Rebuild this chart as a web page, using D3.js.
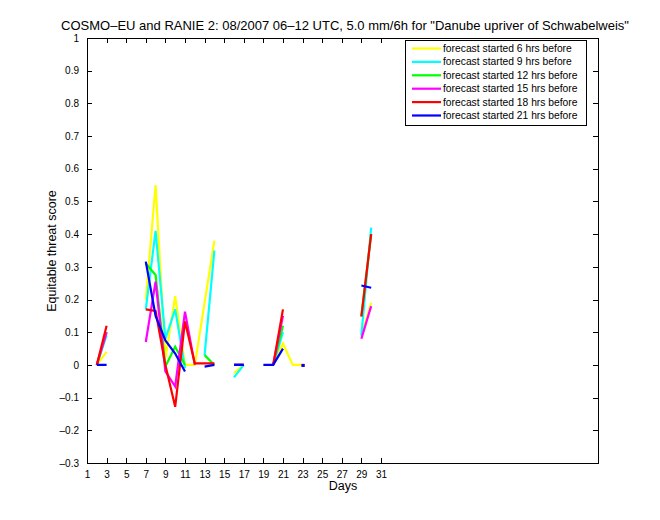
<!DOCTYPE html>
<html><head><meta charset="utf-8">
<script src="https://cdn.jsdelivr.net/npm/d3@7"></script>
<style>body{margin:0;background:#fff}svg{display:block}text{font-family:"Liberation Sans",Arial,sans-serif;fill:#000}</style>
</head><body>
<script>
const days = d3.range(1, 32);
// values per day 1..31 (null = missing)
const N = null;
const yellow6  = [N,0,0.04,N,N,N,0.20,0.55,0.02,0.21,0,0,0.19,0.38,N,-0.025,0,N,N,0,0.065,0,0,N,N,N,N,N,0.09,0.19,N];
const cyan9    = [N,0,0.09,N,N,N,0.17,0.41,0.08,0.17,-0.01,N,0.03,0.35,N,-0.038,0,N,N,0,0.10,N,N,N,N,N,N,N,0.09,0.42,N];
const green12  = [N,0,0.10,N,N,N,0.31,0.275,-0.005,0.056,0,N,0.03,0,N,0,0,N,N,0,0.12,N,N,N,N,N,N,N,0.15,0.40,N];
const magenta15= [N,0,0.10,N,N,N,0.07,0.255,-0.02,-0.066,0.163,0,N,N,N,0,0,N,N,0,0.15,N,N,N,N,N,N,N,0.08,0.18,N];
const red18    = [N,0,0.12,N,N,N,0.17,0.165,0.0,-0.128,0.133,0.005,0.005,0.005,N,0,0,N,N,0,0.17,N,0,N,N,N,N,N,0.148,0.40,N];
const blue21   = [N,0,0,N,N,N,0.316,0.15,0.075,0.035,-0.02,N,-0.005,0,N,0,0,N,0,0,0.05,N,0,N,N,N,N,N,0.243,0.236,N];
const seriesNames = ["forecast started 6 hrs before","forecast started 9 hrs before","forecast started 12 hrs before","forecast started 15 hrs before","forecast started 18 hrs before","forecast started 21 hrs before"];
const seriesColors = ["#ffff00","#00ffff","#00ff00","#ff00ff","#ff0000","#0000ff"];
const seriesValues = [yellow6, cyan9, green12, magenta15, red18, blue21];
const xTicks = d3.range(1, 32, 2);
const yTicks = d3.range(-3, 11).map(v => v / 10);
const titleText = 'COSMO–EU and RANIE 2: 08/2007 06–12 UTC, 5.0 mm/6h for "Danube upriver of Schwabelweis"';

const W = 660, H = 520;
const L = 87, R = 598, T = 38, B = 463;
const svg = d3.select("body").append("svg").attr("width", W).attr("height", H);
const x = d3.scaleLinear().domain([1, 53.15]).range([L, R]);
const y = d3.scaleLinear().domain([-0.3, 1]).range([B, T]);
const fmt = v => (v < 0 ? "–" : "") + d3.format("~g")(Math.abs(v));

// axes box
svg.append("rect").attr("x", L).attr("y", T).attr("width", R - L).attr("height", B - T)
  .attr("fill", "none").attr("stroke", "#000").attr("stroke-width", 1).attr("shape-rendering", "crispEdges");

const ax = svg.append("g").attr("transform", `translate(0,${B})`)
  .call(d3.axisBottom(x).tickValues(xTicks).tickSize(-5).tickPadding(8).tickFormat(d3.format("d")));
const axT = svg.append("g").attr("transform", `translate(0,${T})`)
  .call(d3.axisTop(x).tickValues(xTicks).tickSize(-5).tickFormat(""));
const ay = svg.append("g").attr("transform", `translate(${L},0)`)
  .call(d3.axisLeft(y).tickValues(yTicks).tickSize(-5).tickPadding(8).tickFormat(fmt));
const ayR = svg.append("g").attr("transform", `translate(${R},0)`)
  .call(d3.axisRight(y).tickValues(yTicks).tickSize(-5).tickFormat(""));
[ax, axT, ay, ayR].forEach(g => {
  g.select(".domain").remove();
  g.selectAll("line").attr("stroke", "#000").attr("shape-rendering", "crispEdges");
  g.selectAll("text").attr("font-size", 10).attr("font-family", '"Liberation Sans",Arial,sans-serif').attr("fill", "#000");
});

// lines
const line = d3.line().defined(d => d[1] !== null).x(d => x(d[0])).y(d => y(d[1]));
seriesValues.forEach((vals, i) => {
  const pts = days.map((d, j) => [d, vals[j]]);
  svg.append("path").datum(pts).attr("d", line).attr("fill", "none")
    .attr("stroke", seriesColors[i]).attr("stroke-width", 2.2).attr("stroke-linejoin", "miter");
  // isolated points
  pts.forEach((p, j) => {
    if (p[1] === null) return;
    const prev = j > 0 ? pts[j - 1][1] : null, next = j < pts.length - 1 ? pts[j + 1][1] : null;
    if (prev === null && next === null) {
      svg.append("rect").attr("x", x(p[0]) - 1).attr("y", y(p[1]) - 1).attr("width", 3).attr("height", 3)
        .attr("fill", seriesColors[i]);
    }
  });
});

// title and labels
svg.append("text").attr("x", 345).attr("y", 30).attr("text-anchor", "middle").attr("font-size", 13).text(titleText);
svg.append("text").attr("x", 343).attr("y", 490).attr("text-anchor", "middle").attr("font-size", 12.5).text("Days");
svg.append("text").attr("transform", "translate(56,251) rotate(-90)").attr("text-anchor", "middle").attr("font-size", 12.5).text("Equitable threat score");

// legend
const lg = svg.append("g");
lg.append("rect").attr("x", 405.5).attr("y", 40.5).attr("width", 181).attr("height", 85)
  .attr("fill", "#fff").attr("stroke", "#000").attr("stroke-width", 1);
seriesNames.forEach((n, i) => {
  const yy = 48.5 + i * 13.4;
  lg.append("line").attr("x1", 412).attr("x2", 441).attr("y1", yy).attr("y2", yy)
    .attr("stroke", seriesColors[i]).attr("stroke-width", 2.2);
  lg.append("text").attr("x", 443).attr("y", yy + 3.5).attr("font-size", 10.3).text(n);
});
</script>
</body></html>
